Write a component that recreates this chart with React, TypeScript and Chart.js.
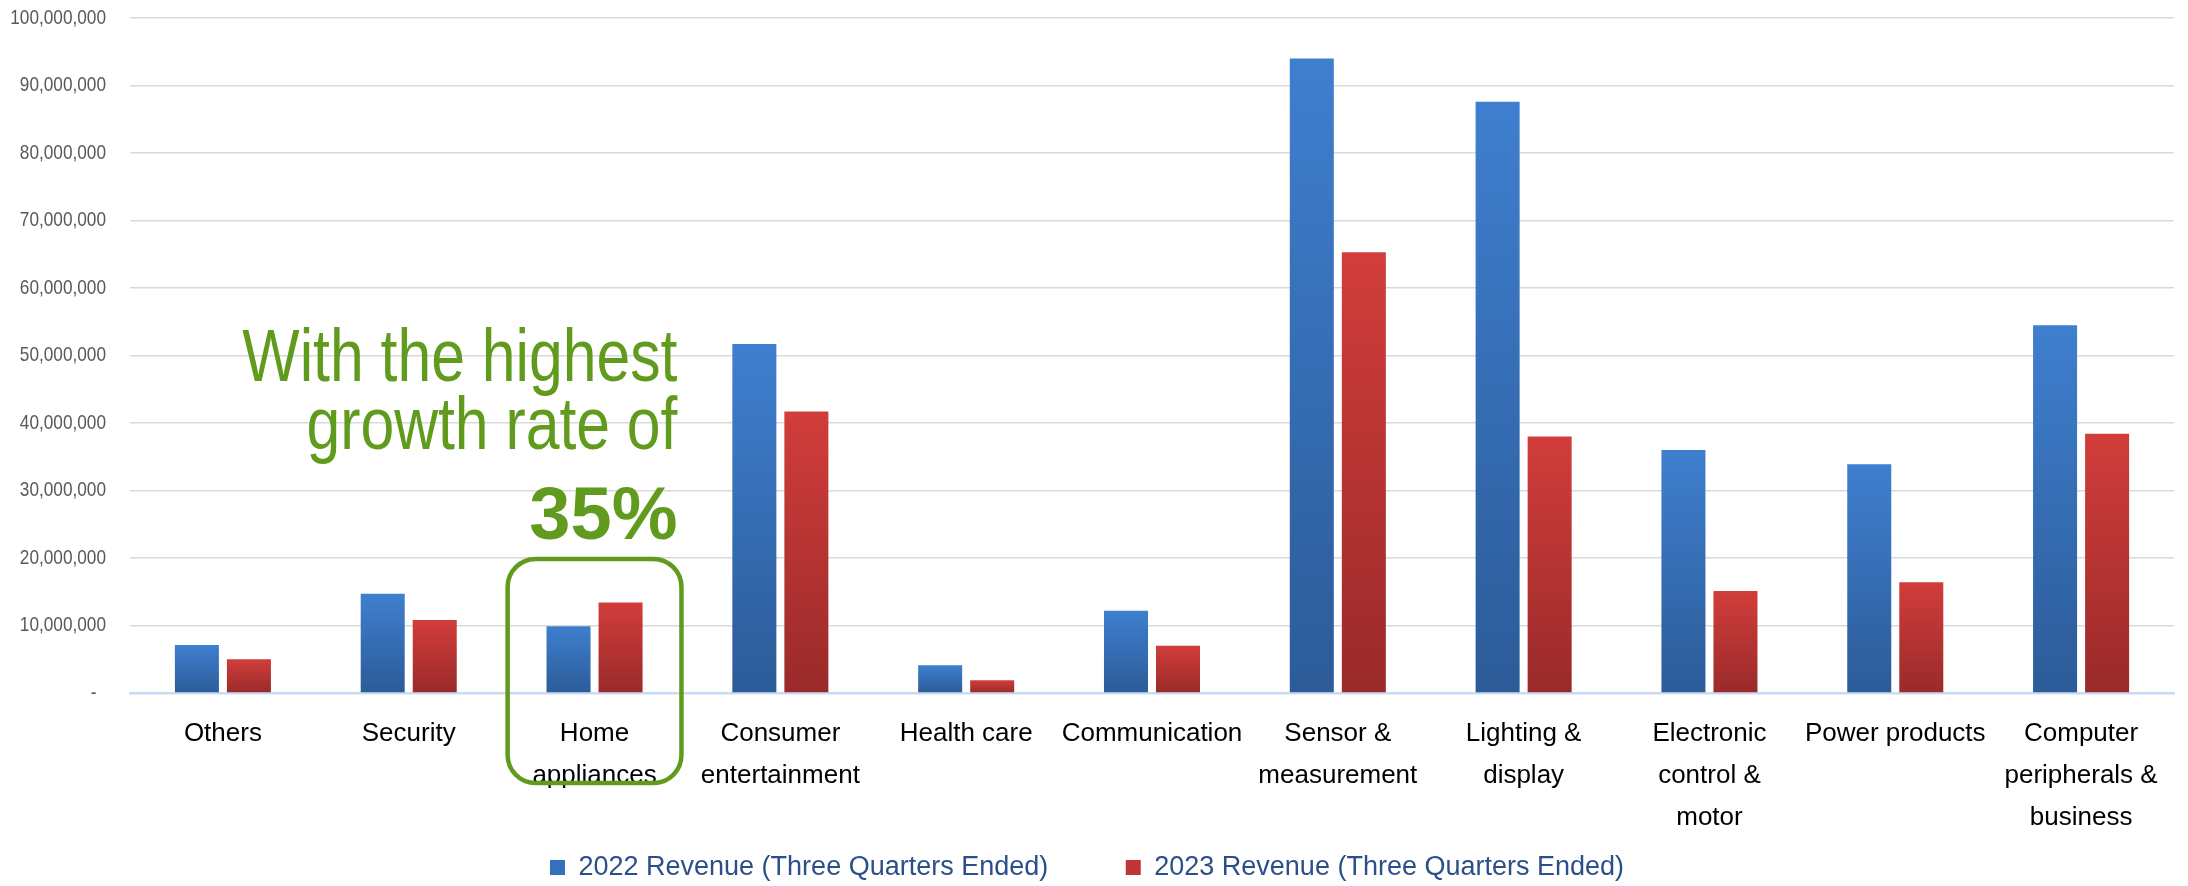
import React, { useEffect, useRef } from "react";
import { Chart, registerables } from "chart.js";

Chart.register(...registerables);

const CATEGORIES: (string | string[])[] = [
  "Others",
  "Security",
  ["Home", "appliances"],
  ["Consumer", "entertainment"],
  "Health care",
  "Communication",
  ["Sensor &", "measurement"],
  ["Lighting &", "display"],
  ["Electronic", "control &", "motor"],
  "Power products",
  ["Computer", "peripherals &", "business"],
];

const SERIES_2022_LABEL = "2022 Revenue (Three Quarters Ended)";
const SERIES_2023_LABEL = "2023 Revenue (Three Quarters Ended)";

const REVENUE_2022 = [
  7100000, 14700000, 9900000, 51700000, 4100000, 12200000, 94000000, 87600000,
  36000000, 33900000, 54500000,
];
const REVENUE_2023 = [
  5000000, 10800000, 13400000, 41700000, 1900000, 7000000, 65300000, 38000000,
  15100000, 16400000, 38400000,
];

const Y_MAX = 100000000;
const Y_STEP = 10000000;

const HIGHLIGHT_INDEX = 2;
const ANNOTATION_LINES = ["With the highest", "growth rate of"];
const GROWTH_LABEL = "35%";

const W = 2188;
const H = 886;

const BLUE_TOP = "#3f7fcf";
const BLUE_BOTTOM = "#2c5b98";
const RED_TOP = "#d13d3b";
const RED_BOTTOM = "#9a2a2a";
const GREEN = "#619b1d";
const NARROW = 0.82;

function formatTick(v: number) {
  return v === 0 ? "-  " : v.toLocaleString("en-US");
}

function barGradient(top: string, bottom: string, solid: string) {
  return (ctx: any) => {
    const chart = ctx.chart;
    const area = chart.chartArea;
    if (!area || ctx.type !== "data" || !chart.scales.y) return solid;
    const ys = chart.scales.y;
    const v = ctx.raw as number;
    const y0 = ys.getPixelForValue(v);
    const y1 = ys.getPixelForValue(0);
    if (!isFinite(y0) || !isFinite(y1) || y0 === y1) return solid;
    const g = chart.ctx.createLinearGradient(0, y0, 0, y1);
    g.addColorStop(0, top);
    g.addColorStop(1, bottom);
    return g;
  };
}

// y-axis tick labels, drawn from the scale's own ticks in a narrow (condensed) style
const narrowYLabels = {
  id: "narrowYLabels",
  afterDraw(chart: any) {
    const { ctx, chartArea } = chart;
    const ys = chart.scales.y;
    ctx.save();
    ctx.font = '21px "Liberation Sans", Arial, sans-serif';
    ctx.fillStyle = "#595959";
    ctx.textAlign = "right";
    ctx.textBaseline = "middle";
    const right = chartArea.left - 24;
    ys.ticks.forEach((t: any, i: number) => {
      const py = ys.getPixelForTick(i);
      ctx.save();
      ctx.translate(right, py);
      ctx.scale(NARROW, 1);
      ctx.fillText(formatTick(Number(t.value)), 0, 0);
      ctx.restore();
    });
    ctx.restore();
  },
};

const annotationPlugin = {
  id: "growthAnnotation",
  afterDraw(chart: any) {
    const { ctx, scales, chartArea } = chart;
    const x = scales.x;
    const y = scales.y;
    const cx = x.getPixelForValue(HIGHLIGHT_INDEX);
    const catW = (chartArea.right - chartArea.left) / CATEGORIES.length;
    const half = catW / 2 - 6;
    const left = cx - half;
    const right = cx + half;
    const top = y.getPixelForValue(2 * Y_STEP) + 1;
    const bottom = chartArea.bottom + 90;
    ctx.save();
    ctx.strokeStyle = GREEN;
    ctx.lineWidth = 4.5;
    ctx.beginPath();
    (ctx as any).roundRect(left, top, right - left, bottom - top, 28);
    ctx.stroke();

    ctx.fillStyle = GREEN;
    ctx.textAlign = "right";
    ctx.textBaseline = "alphabetic";
    const tx = right - 4;
    ctx.font = '74px "Liberation Sans", Arial, sans-serif';
    [top - 178, top - 110].forEach((by, i) => {
      ctx.save();
      ctx.translate(tx, by);
      ctx.scale(NARROW, 1);
      ctx.fillText(ANNOTATION_LINES[i], 0, 0);
      ctx.restore();
    });
    ctx.font = 'bold 74px "Liberation Sans", Arial, sans-serif';
    ctx.fillText(GROWTH_LABEL, tx, top - 20);
    ctx.restore();
  },
};

export default function App() {
  const ref = useRef<HTMLCanvasElement | null>(null);

  useEffect(() => {
    document.body.style.margin = "0";
    const canvas = ref.current;
    if (!canvas) return;
    const chart = new Chart(canvas, {
      type: "bar",
      data: {
        labels: CATEGORIES,
        datasets: [
          {
            label: SERIES_2022_LABEL,
            data: REVENUE_2022,
            backgroundColor: barGradient(BLUE_TOP, BLUE_BOTTOM, "#3570bd"),
            categoryPercentage: 0.56,
            barPercentage: 0.846,
          },
          {
            label: SERIES_2023_LABEL,
            data: REVENUE_2023,
            backgroundColor: barGradient(RED_TOP, RED_BOTTOM, "#c03636"),
            categoryPercentage: 0.56,
            barPercentage: 0.846,
          },
        ],
      },
      options: {
        responsive: false,
        animation: false,
        devicePixelRatio: 1,
        layout: { padding: { top: 18, right: 14, bottom: -5, left: 0 } },
        plugins: {
          tooltip: { enabled: false },
          legend: {
            position: "bottom",
            labels: {
              boxWidth: 15,
              boxHeight: 15,
              padding: 10,
              color: "#2b4f8a",
              font: { family: '"Liberation Sans", Arial, sans-serif', size: 27 },
              generateLabels: () => [
                {
                  text: SERIES_2022_LABEL + "         ",
                  fillStyle: "#3570bd",
                  strokeStyle: "#3570bd",
                  lineWidth: 0,
                  datasetIndex: 0,
                  fontColor: "#2b4f8a",
                },
                {
                  text: SERIES_2023_LABEL,
                  fillStyle: "#c03636",
                  strokeStyle: "#c03636",
                  lineWidth: 0,
                  datasetIndex: 1,
                  fontColor: "#2b4f8a",
                },
              ],
            },
          },
        },
        scales: {
          x: {
            grid: { display: false, drawTicks: false },
            border: { display: true, color: "#c9dbf1", width: 2.5 },
            ticks: {
              autoSkip: false,
              maxRotation: 0,
              minRotation: 0,
              padding: 20,
              color: "#000000",
              font: {
                family: '"Liberation Sans", Arial, sans-serif',
                size: 26,
                lineHeight: 1.615,
              },
            },
            afterFit: (s: any) => {
              s.height = 151;
            },
          },
          y: {
            min: 0,
            max: Y_MAX,
            grid: { color: "#d9d9d9", lineWidth: 1.5, drawTicks: false },
            border: { display: false },
            ticks: {
              stepSize: Y_STEP,
              display: false,
            },
            afterFit: (s: any) => {
              s.width = 130;
            },
          },
        },
      },
      plugins: [narrowYLabels, annotationPlugin],
    });
    return () => chart.destroy();
  }, []);

  return (
    <div style={{ width: W, height: H, background: "#ffffff" }}>
      <canvas ref={ref} width={W} height={H} style={{ display: "block" }} />
    </div>
  );
}
